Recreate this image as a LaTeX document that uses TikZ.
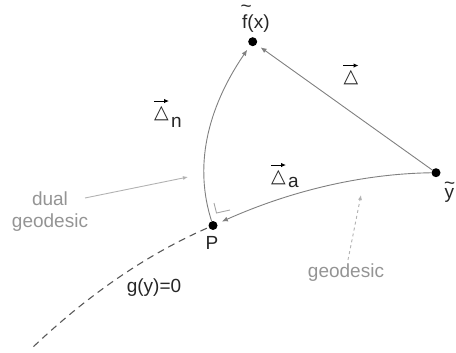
\documentclass[tikz,border=0pt]{standalone}
\usepackage{fontspec}
\setmainfont{Liberation Sans}
\newfontfamily\symfont{DejaVu Sans}
\usetikzlibrary{arrows.meta}
\begin{document}
\begin{tikzpicture}[x=1pt,y=-1pt,
  dot/.style={circle,fill=black,inner sep=0pt,minimum size=9pt},
  lbl/.style={inner sep=0pt,font=\fontsize{19}{21}\selectfont,text=black!85},
  note/.style={inner sep=0pt,font=\fontsize{19}{22}\selectfont,text=black!42,align=center},
  tri/.style={inner sep=0pt,font=\symfont\fontsize{19}{19}\selectfont,text=black!85},
  conn/.style={draw=black!50,line width=0.9pt,-{Latex[length=6pt,width=5pt]}},
  noteconn/.style={draw=black!30,line width=0.9pt,-{Latex[length=5pt,width=4pt]}},
  vecarr/.style={draw=black,line width=1pt,-{Latex[length=5pt,width=4.5pt]}},
  surf/.style={draw=black!65,line width=1.1pt,dash pattern=on 7pt off 5pt},
  rangle/.style={draw=black!35,line width=0.9pt}]
\useasboundingbox (0,0) rectangle (456,353);
% points
\node[dot] (fx) at (252.7,41.7) {};
\node[dot] (y) at (436,172.7) {};
\node[dot] (P) at (213,225.5) {};
% point labels
\node[lbl,anchor=base west] (fxl) at (242,28.5) {\makebox[0pt][l]{\hspace{-1.5pt}\raisebox{15.5pt}{\textasciitilde}}f(x)};
\node[lbl,anchor=base west] (yl) at (444.5,198.5) {\makebox[0pt][l]{\hspace{-0.5pt}\raisebox{9pt}{\textasciitilde}}y};
\node[lbl] (Pl) at (212,242.5) {P};
\node[lbl] (gl) at (154,288) {g(y)=0};
% connectors
\draw[conn,shorten >=5pt] (y) -- (fx);
\draw[conn,shorten >=5pt] (y) .. controls (365.7,173.7) and (294.3,189.3) .. (P);
\draw[conn,shorten >=5pt] (P) .. controls (194.3,167.3) and (206,110.3) .. (fx);
\coordinate (gend) at (32,348);
\draw[surf,shorten <=2pt] (P) .. controls (146.7,254.7) and (89,294) .. (gend);
% right angle mark
\draw[rangle] (214,203) -- (216.5,213) -- (230,210);
% notes
\node[note] (dual) at (50,212) {dual\\geodesic};
\coordinate (dstart) at (85,198);
\coordinate (dtip) at (188,177);
\draw[noteconn] (dstart) -- (dtip);
\node[note] (geo) at (346,273) {geodesic};
\coordinate (gtip) at (361,195);
\draw[noteconn,dashed] ([xshift=2pt,yshift=4pt]geo.north) -- (gtip);
% vector labels
\node[tri] (D) at (351,78) {△};
\draw[vecarr] ([yshift=5pt]D.north west) -- ([yshift=5pt]D.north east);
\node[tri] (Dn) at (161.5,113.5) {△};
\draw[vecarr] ([yshift=5pt]Dn.north west) -- ([yshift=5pt]Dn.north east);
\node[lbl,anchor=base west] (n) at (171,128) {n};
\node[tri] (Da) at (278.5,177.5) {△};
\draw[vecarr] ([yshift=5pt]Da.north west) -- ([yshift=5pt]Da.north east);
\node[lbl,anchor=base west] (a) at (288,188) {a};
\end{tikzpicture}
\end{document}
